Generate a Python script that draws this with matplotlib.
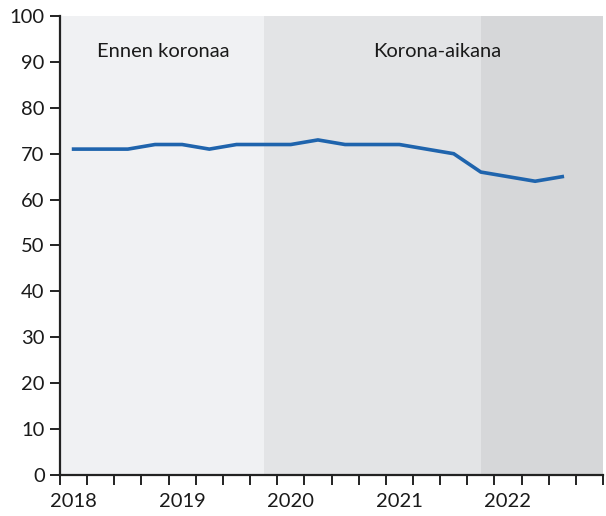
import matplotlib.pyplot as plt
import numpy as np

# Quarterly values, Q1 2018 .. Q3 2022 (Q4 2022 empty)
quarters = ['2018Q1', '2018Q2', '2018Q3', '2018Q4',
            '2019Q1', '2019Q2', '2019Q3', '2019Q4',
            '2020Q1', '2020Q2', '2020Q3', '2020Q4',
            '2021Q1', '2021Q2', '2021Q3', '2021Q4',
            '2022Q1', '2022Q2', '2022Q3', '2022Q4']
values = [71, 71, 71, 72, 72, 71, 72, 72, 72, 73,
          72, 72, 72, 71, 70, 66, 65, 64, 65]
year_labels = ['2018', '2019', '2020', '2021', '2022']
period_labels = ['Ennen koronaa', 'Korona-aikana']

plt.rcParams['font.family'] = ['Lato', 'DejaVu Sans']

fig = plt.figure(figsize=(6.06, 5.16), dpi=100)
ax = fig.add_axes([60 / 606, 41 / 516, 543 / 606, 459 / 516])

n = len(quarters)
x = np.arange(len(values))

# background shading for the periods
ax.axvspan(-0.5, 7, color='#f0f1f3', lw=0, zorder=0)
ax.axvspan(7, 15, color='#e3e4e6', lw=0, zorder=0)
ax.axvspan(15, n - 0.5, color='#d6d7d9', lw=0, zorder=0)

ax.plot(x, values, color='#1f64ad', lw=2.6, solid_joinstyle='miter', zorder=3)

ax.text(3.32, 92.2, period_labels[0], ha='center', va='center', fontsize=14.5, color='#1a1a1a')
ax.text(13.39, 92.2, period_labels[1], ha='center', va='center', fontsize=14.5, color='#1a1a1a')

ax.set_xlim(-0.5, n - 0.5)
ax.set_ylim(0, 100)
ax.set_yticks(range(0, 101, 10))

ax.set_xticks(range(0, n, 4))
ax.set_xticklabels(year_labels)
ax.set_xticks(np.arange(-0.5, n, 1), minor=True)
ax.tick_params(axis='x', which='major', length=0, pad=13, labelsize=14.5, labelcolor='#1a1a1a')
ax.tick_params(axis='x', which='minor', length=7, width=1.4, direction='out', color='#222222')
ax.tick_params(axis='y', length=7, width=1.4, direction='out', labelsize=14.5, pad=4,
               color='#222222', labelcolor='#1a1a1a')

for s in ['top', 'right']:
    ax.spines[s].set_visible(False)
for s in ['left', 'bottom']:
    ax.spines[s].set_linewidth(1.6)
    ax.spines[s].set_color('#222222')

fig.savefig('out.png', dpi=100)
